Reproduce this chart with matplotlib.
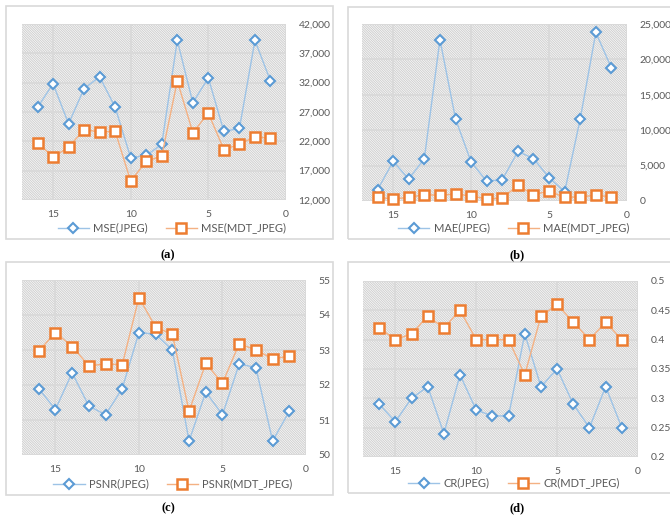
import matplotlib
matplotlib.use("Agg")
import matplotlib.pyplot as plt
from matplotlib.patches import Rectangle
from matplotlib.ticker import FuncFormatter

plt.rcParams['font.family'] = ['Lato', 'DejaVu Sans']
plt.rcParams['hatch.color'] = '#d0d0d0'
plt.rcParams['hatch.linewidth'] = 0.75

x = list(range(16, 0, -1))

mse_jpeg = [27800, 31800, 25000, 31000, 33000, 27800, 19200, 19600,
            21500, 39200, 28600, 32800, 23700, 24200, 39200, 32300]
mse_mdt = [21800, 19300, 21000, 24000, 23600, 23700, 15200, 18600,
           19500, 32300, 23500, 26800, 20600, 21500, 22800, 22500]

mae_jpeg = [1600, 5600, 3100, 6000, 22800, 11600, 5500, 2800,
            3000, 7000, 6000, 3300, 1300, 11600, 23800, 18800]
mae_mdt = [500, 300, 500, 900, 800, 1000, 700, 300,
           400, 2200, 900, 1400, 500, 600, 800, 600]

psnr_jpeg = [51.9, 51.3, 52.35, 51.4, 51.15, 51.9, 53.5, 53.45,
             53.0, 50.4, 51.8, 51.15, 52.6, 52.5, 50.4, 51.25]
psnr_mdt = [52.97, 53.5, 53.1, 52.55, 52.6, 52.58, 54.5, 53.65,
            53.45, 51.25, 52.62, 52.05, 53.18, 53.0, 52.75, 52.82]

cr_jpeg = [0.29, 0.26, 0.30, 0.32, 0.24, 0.34, 0.28, 0.27,
           0.27, 0.41, 0.32, 0.35, 0.29, 0.25, 0.32, 0.25]
cr_mdt = [0.42, 0.40, 0.41, 0.44, 0.42, 0.45, 0.40, 0.40,
          0.40, 0.34, 0.44, 0.46, 0.43, 0.40, 0.43, 0.40]

W, H = 670, 517
fig = plt.figure(figsize=(W / 100, H / 100), dpi=100)

BLUE = '#5b9bd5'
BLUE_L = '#9dc3e6'
ORANGE = '#ed7d31'
ORANGE_L = '#f4b183'
TXT = '#595959'
GRID = '#d9d9d9'


def px_axes(l, t, r, b):
    return fig.add_axes([l / W, (H - b) / H, (r - l) / W, (b - t) / H])


def box(l, t, r, b):
    fig.patches.append(Rectangle((l / W, (H - b) / H), (r - l) / W, (b - t) / H,
                                 transform=fig.transFigure, fill=False,
                                 edgecolor='#d9d9d9', linewidth=1.2))


def panel(rect, frame, leg, cap, y1, y2, name, yticks, fmt):
    box(*frame)
    ax = px_axes(*rect)
    ax.add_patch(Rectangle((0, 0), 1, 1, transform=ax.transAxes, facecolor='white',
                           hatch='\\' * 14, edgecolor='#d0d0d0', linewidth=0, zorder=0))
    ax.plot(x, y1, color=BLUE_L, lw=1.0, marker='D', ms=5.5, mfc='white',
            mec=BLUE, mew=1.5, label=name + '(JPEG)', zorder=3, clip_on=False)
    ax.plot(x, y2, color=ORANGE_L, lw=1.0, marker='s', ms=7, mfc='white',
            mec=ORANGE, mew=1.8, label=name + '(MDT_JPEG)', zorder=3, clip_on=False)
    ax.set_xlim(17, 0)
    ax.set_xticks([15, 10, 5, 0])
    ax.set_ylim(yticks[0], yticks[-1])
    ax.set_yticks(yticks)
    ax.yaxis.set_major_formatter(FuncFormatter(fmt))
    ax.yaxis.tick_right()
    ax.tick_params(length=0, labelsize=7.5, colors=TXT, pad=9)
    ax.tick_params(axis='x', pad=7)
    ax.grid(True, color=GRID, lw=1.3, zorder=1)
    ax.set_axisbelow(True)
    for s in ax.spines.values():
        s.set_visible(False)
    fig.legend(handles=ax.get_lines(), loc='center', bbox_to_anchor=(leg[0] / W, 1 - leg[1] / H),
               ncol=2, frameon=False, fontsize=8, handlelength=2.8, columnspacing=1.6,
               labelcolor=TXT, borderaxespad=0, handletextpad=0.4)
    fig.text(cap[0] / W, 1 - cap[1] / H, cap[2], ha='center', va='center',
             family='Liberation Serif', fontweight='bold', fontsize=9)
    return ax


comma = lambda v, p: '{:,.0f}'.format(v)
plain = lambda v, p: '{:g}'.format(round(v, 2))

panel((22, 24, 286, 200), (6, 6, 333, 239), (172, 228), (168, 255, '(a)'),
      mse_jpeg, mse_mdt, 'MSE', [12000, 17000, 22000, 27000, 32000, 37000, 42000], comma)
panel((362, 24, 627, 201), (348, 7, 680, 239), (514, 228), (517, 255, '(b)'),
      mae_jpeg, mae_mdt, 'MAE', [0, 5000, 10000, 15000, 20000, 25000], comma)
panel((22, 280, 306, 455), (6, 262, 333, 495), (173, 484), (168, 508, '(c)'),
      psnr_jpeg, psnr_mdt, 'PSNR', [50, 51, 52, 53, 54, 55], plain)
panel((363, 281, 638, 457), (348, 262, 680, 493), (514, 483), (517, 508, '(d)'),
      cr_jpeg, cr_mdt, 'CR', [0.2, 0.25, 0.3, 0.35, 0.4, 0.45, 0.5], plain)

fig.savefig('out.png', dpi=100)
